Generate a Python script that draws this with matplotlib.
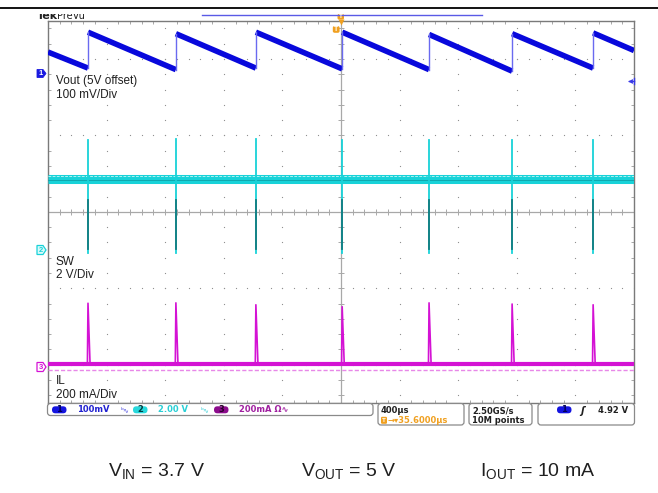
import matplotlib
matplotlib.use("Agg")
import matplotlib.pyplot as plt
import numpy as np
from matplotlib.patches import FancyBboxPatch, Polygon, Rectangle

plt.rcParams['font.family'] = ['Liberation Sans', 'DejaVu Sans']

# scope settings (time in us, vertical in divisions)
time_per_div = 400
ch1_scale_mV = 100
ch2_scale_V = 2
ch3_scale_mA = 200
ch1_pos = 1.81
ch2_pos = -0.50
ch3_pos = -2.03

# switching events
edge_t = [-1727, -1127, -581, 8, 601, 1168, 1721]

# Vout ripple (mV above the 5 V offset)
vout_start = 28
vout_end = 30
vout_trough = [7, 5, 7, 6, 5, 3, 7]
vout_peak = [54, 52, 54, 54, 51, 52, 53]

# SW node (V)
sw_level = 1.87
sw_spike_hi = [2.88, 2.9, 2.9, 2.87, 2.88, 2.88, 2.88]
sw_spike_lo = -0.08
sw_dark_top = 1.3

# inductor current (mA)
il_level = 9
il_noise_low = -7
il_peak = [167, 168, 163, 158, 168, 165, 163]
il_rise = 4
il_fall = 14

fig = plt.figure(figsize=(6.58, 4.93), dpi=100)
ax = fig.add_axes([48/658, (493-403)/493, 586/658, 382.3/493])
ax.set_xlim(-5*time_per_div, 5*time_per_div)
ax.set_ylim(-2.5, 2.5)

# graticule
grid_c = '#a8a8a8'
ax.set_xticks(np.arange(-2000, 2001, 400))
ax.set_yticks(np.arange(-2, 2.1, 1))
ax.set_xticks(np.arange(-2000, 2001, 80), minor=True)
ax.set_yticks(np.arange(-2.4, 2.41, 0.2), minor=True)
ax.tick_params(which='major', length=0, labelbottom=False, labelleft=False)
ax.tick_params(which='minor', direction='in', length=2.5, width=0.7, color=grid_c,
               top=True, right=True)
for s in ax.spines.values():
    s.set_color('#7a7a7a')
    s.set_linewidth(1.0)

xs = np.arange(-2000, 2001, 80)
for yy in [-2, -1, 1, 2]:
    ax.plot(xs, np.full(len(xs), yy), ls='none', marker='s', ms=0.8, mew=0, color='#909090', zorder=1)
ys = np.arange(-2.4, 2.41, 0.2)
for xx in [-1600, -1200, -800, -400, 400, 800, 1200, 1600]:
    ax.plot(np.full(len(ys), xx), ys, ls='none', marker='s', ms=0.8, mew=0, color='#909090', zorder=1)
ax.axhline(0, color=grid_c, lw=0.9, zorder=1)
ax.axvline(0, color=grid_c, lw=0.9, zorder=1)
ax.plot(xs, np.zeros(len(xs)), ls='none', marker='|', ms=4.5, mew=0.7, color=grid_c, zorder=1)
ax.plot(np.zeros(len(ys)), ys, ls='none', marker='_', ms=4.5, mew=0.7, color=grid_c, zorder=1)

# channel 1: Vout
def v1(mv):
    return ch1_pos + mv / ch1_scale_mV

blue = '#0808dc'
seg_t = [-2000] + edge_t
seg_v0 = [vout_start] + vout_peak
seg_t1 = edge_t + [2000]
seg_v1 = vout_trough + [vout_end]
for t0, a, t1, b in zip(seg_t, seg_v0, seg_t1, seg_v1):
    ax.plot([t0, t1], [v1(a), v1(b)], color=blue, lw=4.0, solid_capstyle='butt', zorder=3)
for t, lo, hi in zip(edge_t, vout_trough, vout_peak):
    ax.plot([t, t], [v1(lo), v1(hi)], color='#6a6af0', lw=1.0, zorder=3)

# channel 2: SW
def v2(v):
    return ch2_pos + v / ch2_scale_V

cyan = '#18d2d8'
ax.plot([-2000, 2000], [v2(sw_level)] * 2, color=cyan, lw=6.5, solid_capstyle='butt', zorder=3)
ax.plot([-2000, 2000], [v2(sw_level) - 0.012] * 2, color='#0fa0a8', lw=0.6, zorder=3)
ax.plot([-2000, 2000], [v2(sw_level) + 0.035] * 2, color='#e8ffff', lw=0.5, ls=(0, (4, 2)), zorder=3)
for t, hi in zip(edge_t, sw_spike_hi):
    ax.plot([t, t], [v2(sw_spike_lo), v2(hi)], color=cyan, lw=1.3, zorder=4)
    ax.plot([t, t], [v2(sw_spike_lo + 0.12), v2(sw_dark_top)], color='#137c80', lw=1.3, zorder=4)

# channel 3: IL
def v3(ma):
    return ch3_pos + ma / ch3_scale_mA

mag = '#d412d4'
ax.plot([-2000, 2000], [v3(il_noise_low)] * 2, color='#e888e8', lw=1.0, ls=(0, (3, 1.5)), zorder=3)
ax.plot([-2000, 2000], [v3(il_level)] * 2, color=mag, lw=3.0, solid_capstyle='butt', zorder=3)
for t, pk in zip(edge_t, il_peak):
    ax.plot([t - il_rise, t, t + il_fall], [v3(il_level), v3(pk), v3(il_level)],
            color=mag, lw=1.2, zorder=4)

# overlay in screen pixels for scope annotations
ov = fig.add_axes([0, 0, 1, 1], zorder=5)
ov.set_xlim(0, 658)
ov.set_ylim(493, 0)
ov.axis('off')

ov.plot([0, 658], [7.5, 7.5], color='black', lw=1.3)
ov.plot([202, 482], [15.3, 15.3], color='#5a5ae6', lw=1.0)
clip = Rectangle((0, 13.8), 200, 10, transform=ov.transData)
for x0, s, fs, fw in [(36.5, 'Tek', 8, 'bold'), (56.5, 'PreVu', 7, 'normal')]:
    hdr = ov.text(x0, 18.8, s, fontsize=fs, fontweight=fw, va='baseline', color='#202020',
                  family='DejaVu Sans')
    hdr.set_clip_path(clip)
    hdr.set_clip_on(True)

orange = '#f0a020'
ov.add_patch(FancyBboxPatch((337.5, 14), 6.5, 5.5, boxstyle='round,pad=0,rounding_size=1.5',
                            fc=orange, ec='none'))
ov.plot([340.8], [21.5], marker='v', ms=4, color=orange, mec='none')
ov.add_patch(FancyBboxPatch((332.8, 26), 6.8, 6.8, boxstyle='round,pad=0,rounding_size=1.8',
                            fc=orange, ec='none'))
ov.text(336.2, 29.6, 'T', fontsize=5, color='white', ha='center', va='center', fontweight='bold')
ov.text(340.8, 16.8, 'T', fontsize=4.5, color='white', ha='center', va='center', fontweight='bold')

# channel position markers
ov.add_patch(Polygon([[37, 69.5], [43, 69.5], [46, 73.5], [43, 77.5], [37, 77.5]],
                     closed=True, fc='#1a1ae0', ec='#1a1ae0', lw=0.6))
ov.text(40.5, 73.7, '1', fontsize=5.5, color='white', ha='center', va='center', fontweight='bold')
ov.add_patch(Polygon([[37, 245.5], [43, 245.5], [46, 250], [43, 254.5], [37, 254.5]],
                     closed=True, fc='#d8fafa', ec=cyan, lw=0.9))
ov.text(40.5, 250.2, '2', fontsize=5.5, color=cyan, ha='center', va='center', fontweight='bold')
ov.add_patch(Polygon([[37, 362.5], [43, 362.5], [46, 367], [43, 371.5], [37, 371.5]],
                     closed=True, fc='white', ec=mag, lw=0.9))
ov.text(40.5, 367.2, '3', fontsize=5.5, color=mag, ha='center', va='center', fontweight='bold')

ov.plot([629, 634], [80.7, 80.7], color='#3a3ae8', lw=1.0)
ov.plot([629.5], [80.7], marker='<', ms=3.5, color='#3a3ae8', mec='none')
ov.plot([634, 634], [78, 83.5], color='#3a3ae8', lw=1.0)

# trace labels
lab = dict(fontsize=8.5, color='#202020', va='baseline')
ov.text(56, 84.3, 'Vout (5V offset)', **lab)
ov.text(56, 97.5, '100 mV/Div', **lab)
ov.text(56, 265.2, 'SW', **lab)
ov.text(56, 278.5, '2 V/Div', **lab)
ov.text(56, 384.2, 'IL', **lab)
ov.text(56, 397.5, '200 mA/Div', **lab)

# status bar
box = dict(boxstyle='round,pad=0,rounding_size=3', fc='white', ec='#8a8a8a', lw=0.9)
ov.add_patch(FancyBboxPatch((47.5, 403.5), 325.5, 12, **box))
ov.add_patch(FancyBboxPatch((378, 403.5), 86, 21.5, **box))
ov.add_patch(FancyBboxPatch((469, 403.5), 63, 21.5, **box))
ov.add_patch(FancyBboxPatch((538, 403.5), 96.5, 21.5, **box))

st = dict(fontsize=6, fontweight='bold', va='center', family='DejaVu Sans')
pills = [(52, '#1414e0', '1', '#00005a'), (133, '#28d8dc', '2', '#003c40'),
         (214, '#8c0c8c', '3', '#2a002a'), (557, '#1414e0', '1', '#00005a')]
for px, fc, lbl, tc in pills:
    ov.add_patch(FancyBboxPatch((px, 406.3), 14.5, 7, boxstyle='round,pad=0,rounding_size=3.4',
                                fc=fc, ec='none'))
    ov.text(px + 7.2, 410, lbl, color=tc, ha='center', **st)
ov.text(77, 410, '100mV', color='#2020d0', **st)
ov.text(121, 410, 'ᵇ∿', color='#5050e0', fontsize=5, va='center', family='DejaVu Sans')
ov.text(158, 410, '2.00 V', color='#28cfd6', **st)
ov.text(201, 410, 'ᵇ∿', color='#40d0d8', fontsize=5, va='center', family='DejaVu Sans')
ov.text(239, 410, '200mA Ω∿', color='#a020a0', **st)

ov.text(380.5, 410.5, '400µs', color='#202020', **st)
ov.add_patch(FancyBboxPatch((381, 416.8), 6, 7, boxstyle='round,pad=0,rounding_size=1.2',
                            fc=orange, ec='none'))
ov.text(384, 420.4, 'T', color='white', ha='center', fontsize=4.5, fontweight='bold', va='center')
ov.text(388, 420.6, '→▾35.6000µs', color=orange, **st)
ov.text(472, 410.5, '2.50GS/s', color='#202020', **st)
ov.text(472, 420.6, '10M points', color='#202020', **st)
ov.text(580, 410.5, 'ʃ', color='#202020', fontsize=7, fontweight='bold', va='center',
        family='DejaVu Sans', style='italic')
ov.text(598, 410.5, '4.92 V', color='#202020', **st)

# test conditions
cap = dict(fontsize=14, color='#202020', va='baseline')
ov.text(108, 476, r'$\mathregular{V_{IN}}$ = 3.7 V', **cap)
ov.text(301, 476, r'$\mathregular{V_{OUT}}$ = 5 V', **cap)
ov.text(480, 476, r'$\mathregular{I_{OUT}}$ = 10 mA', **cap)

fig.savefig('out.png', dpi=100)
